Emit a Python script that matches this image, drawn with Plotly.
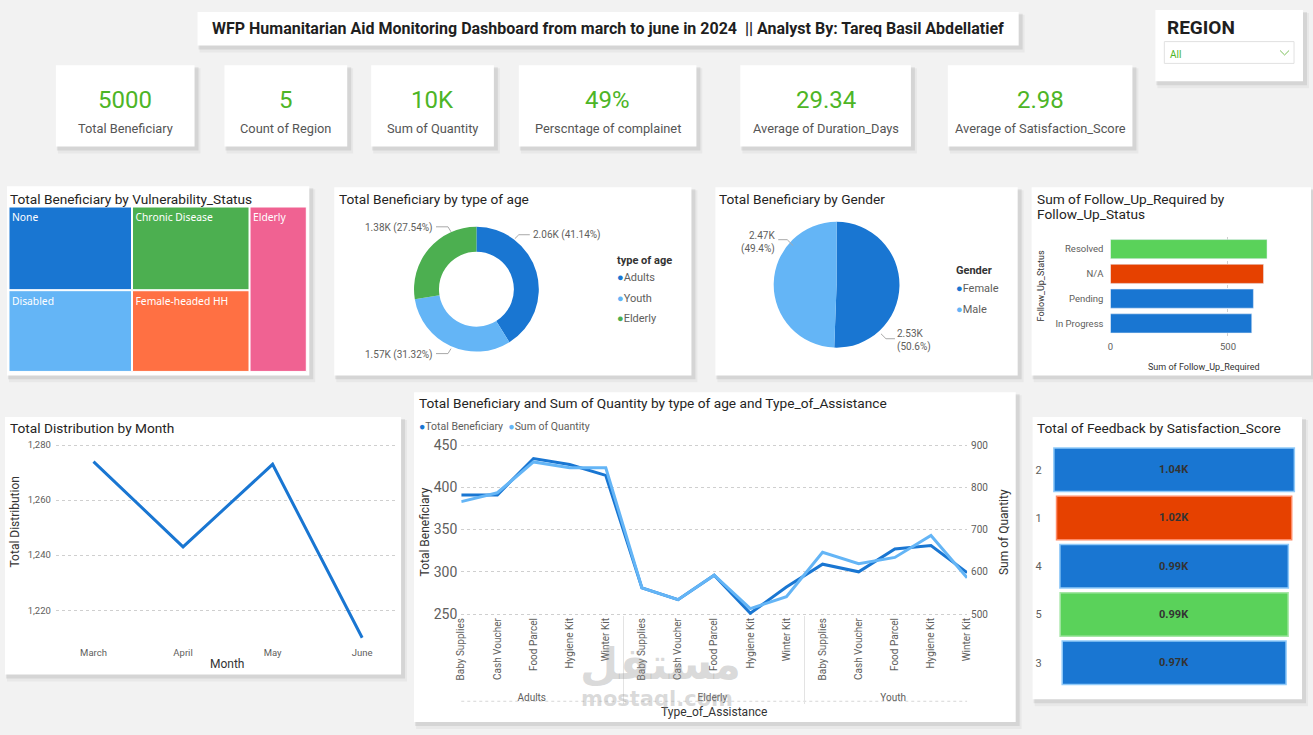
import plotly.graph_objects as go

W, H = 1313, 735
def px(x): return x / W
def py(y): return 1 - y / H

FONT = "Roboto"
TITLE_C = "#252423"
TICK_C = "#605E5C"
BLUE = "#1976D2"
LBLUE = "#64B5F6"
GREEN = "#4CAF50"
KPI_GREEN = "#4DB526"

# ---------------- data ----------------
kpi_values = ["5000", "5", "10K", "49%", "29.34", "2.98"]
kpi_labels = ["Total Beneficiary", "Count of Region", "Sum of Quantity",
              "Perscntage of complainet", "Average of Duration_Days",
              "Average of Satisfaction_Score"]

vuln_labels = ["None", "Disabled", "Chronic Disease", "Female-headed HH", "Elderly"]
vuln_values = [1047, 1023, 997, 973, 960]
vuln_colors = ["#1976D2", "#64B5F6", "#4CAF50", "#FF7043", "#F06292"]

age_labels = ["Adults", "Youth", "Elderly"]
age_values = [2057, 1566, 1377]
age_colors = [BLUE, LBLUE, GREEN]

gender_labels = ["Female", "Male"]
gender_values = [2530, 2470]
gender_colors = [BLUE, LBLUE]

follow_status = ["Resolved", "N/A", "Pending", "In Progress"]
follow_values = [666, 651, 608, 601]
follow_colors = ["#5AD25A", "#E64100", BLUE, BLUE]

months = ["March", "April", "May", "June"]
month_dist = [1274, 1243, 1273, 1210]

assist_types = ["Baby Supplies", "Cash Voucher", "Food Parcel", "Hygiene Kit", "Winter Kit"]
age_groups = ["Adults", "Elderly", "Youth"]
ben_adults = [391, 391, 434, 427, 414]
ben_elderly = [281, 267, 296, 251, 282]
ben_youth = [309, 300, 327, 331, 299]
qty_adults = [766, 787, 860, 846, 846]
qty_elderly = [562, 534, 592, 513, 541]
qty_youth = [646, 619, 634, 686, 586]

sat_scores = ["2", "1", "4", "5", "3"]
sat_feedback = [1042, 1019, 990, 988, 970]
sat_colors = [BLUE, "#E64100", BLUE, "#5AD25A", BLUE]
sat_lines = ["#90CAF9", "#FF8A65", "#90CAF9", "#A5E6A5", "#90CAF9"]

# ---------------- helpers ----------------
shapes = []
annotations = []

def card(x0, y0, x1, y1):
    shapes.append(dict(type="rect", xref="paper", yref="paper", layer="below",
                       x0=px(x0 + 2), x1=px(x1 + 6), y0=py(y1 + 7), y1=py(y0 + 3),
                       fillcolor="rgba(0,0,0,0.04)", line_width=0))
    shapes.append(dict(type="rect", xref="paper", yref="paper", layer="below",
                       x0=px(x0 + 1), x1=px(x1 + 4), y0=py(y1 + 4), y1=py(y0 + 2),
                       fillcolor="rgba(0,0,0,0.08)", line_width=0))
    shapes.append(dict(type="rect", xref="paper", yref="paper", layer="below",
                       x0=px(x0), x1=px(x1), y0=py(y1), y1=py(y0),
                       fillcolor="white", line_width=0))

def text(x, y, s, size=13.7, color=TITLE_C, xanchor="left", yanchor="middle",
         family=FONT, align="left", **kw):
    annotations.append(dict(xref="paper", yref="paper", x=px(x), y=py(y + 1.5), text=s,
                            showarrow=False, xanchor=xanchor, yanchor=yanchor,
                            align=align, borderpad=0,
                            font=dict(size=size, color=color, family=family), **kw))

def line(pts, color="#A8A8A8", width=1, dash="solid", layer="above"):
    path = "M " + " L ".join(f"{px(a)},{py(b)}" for a, b in pts)
    shapes.append(dict(type="path", xref="paper", yref="paper", path=path, layer=layer,
                       line=dict(color=color, width=width, dash=dash)))

# ---------------- cards ----------------
card(195, 12, 1018, 46)
kpi_boxes = [(53, 192), (222, 345), (369, 492), (517, 695), (739, 910), (947, 1132)]
for (a, b) in kpi_boxes:
    card(a, 66, b, 148)
card(1155, 10, 1303, 82)
card(4, 188, 307, 379)
card(332, 189, 690, 379)
card(714, 189, 1017, 379)
card(1031, 189, 1311, 379)
card(2, 421, 399, 681)
card(412, 396, 1015, 729)
card(1032, 421, 1302, 706)

# title bar
text(606, 27, "<b>WFP Humanitarian Aid Monitoring Dashboard from march to june in 2024  || Analyst By: Tareq Basil Abdellatief</b>",
     size=16, color="#1F1F1F", xanchor="center")

# KPIs
for (a, b), v, lab in zip(kpi_boxes, kpi_values, kpi_labels):
    cx = (a + b) / 2
    text(cx, 99, v, size=24, color=KPI_GREEN, xanchor="center")
    text(cx, 128, lab, size=12.8, color="#555555", xanchor="center")

# Region slicer
text(1166, 26, "<b>REGION</b>", size=19, color="#1F1F1F")
shapes.append(dict(type="rect", xref="paper", yref="paper",
                   x0=px(1164), x1=px(1294), y0=py(64), y1=py(42),
                   fillcolor="white", line=dict(color="#E1E1E1", width=1)))
text(1169, 54, "All", size=10, color=KPI_GREEN)
line([(1280, 51), (1284.5, 55.5), (1289, 51)], color="#7CC05A", width=1)

# chart titles
text(6, 199, "Total Beneficiary by Vulnerability_Status")
text(336, 199, "Total Beneficiary by type of age")
text(717, 199, "Total Beneficiary by Gender")
text(1035, 199, "Sum of Follow_Up_Required by")
text(1035, 215, "Follow_Up_Status")
text(6, 431, "Total Distribution by Month")
text(416, 405, "Total Beneficiary and Sum of Quantity by type of age and Type_of_Assistance")
text(1035, 431, "Total of Feedback by Satisfaction_Score")

# ---------------- traces ----------------
data = []

# treemap
data.append(go.Treemap(
    labels=vuln_labels, parents=[""] * len(vuln_labels), values=vuln_values,
    marker=dict(colors=vuln_colors, line=dict(color="white", width=1),
                pad=dict(t=0, l=0, r=0, b=0)),
    textinfo="label", textposition="top left",
    textfont=dict(size=10.3, color="white", family="Noto Sans"),
    tiling=dict(pad=1), pathbar=dict(visible=False), sort=True,
    domain=dict(x=[px(6), px(304)], y=[py(375), py(209)])))

# donut
data.append(go.Pie(
    labels=age_labels, values=age_values, hole=0.6, sort=False,
    direction="clockwise", rotation=0, textinfo="none",
    marker=dict(colors=age_colors, line=dict(color="white", width=0)),
    domain=dict(x=[px(411.5), px(537.5)], y=[py(355), py(229)])))

# gender pie
data.append(go.Pie(
    labels=gender_labels, values=gender_values, sort=False,
    direction="clockwise", rotation=0, textinfo="none",
    marker=dict(colors=gender_colors, line=dict(color="white", width=0)),
    domain=dict(x=[px(772), px(899)], y=[py(351), py(224)])))

# follow-up bars
data.append(go.Bar(
    y=follow_status, x=follow_values, orientation="h", width=0.77,
    marker=dict(color=follow_colors), xaxis="x", yaxis="y"))

# month line
data.append(go.Scatter(
    x=months, y=month_dist, mode="lines", line=dict(color=BLUE, width=3),
    xaxis="x2", yaxis="y2"))

# combo lines
xcat = [[g for g in age_groups for _ in assist_types], assist_types * len(age_groups)]
data.append(go.Scatter(
    x=xcat, y=ben_adults + ben_elderly + ben_youth, mode="lines",
    line=dict(color=BLUE, width=3), xaxis="x3", yaxis="y3", name="Total Beneficiary"))
data.append(go.Scatter(
    x=xcat, y=qty_adults + qty_elderly + qty_youth, mode="lines",
    line=dict(color=LBLUE, width=3), xaxis="x3", yaxis="y4", name="Sum of Quantity"))

# funnel
sat_text = [f"<b>{v/1000:.2f}K</b>" for v in sat_feedback]
data.append(go.Funnel(
    y=sat_scores, x=sat_feedback, text=sat_text, textinfo="text",
    textposition="inside", textfont=dict(size=11, color="#333333", family=FONT),
    marker=dict(color=sat_colors, line=dict(color=sat_lines, width=1.5)),
    connector=dict(visible=False), xaxis="x5", yaxis="y5"))

fig = go.Figure(data=data)

# ---------------- pie labels & legends ----------------
tot_age = sum(age_values)
age_txt = [f"{v/1000:.2f}K ({v/tot_age*100:.2f}%)" for v in age_values]
text(530.5, 236, age_txt[0], size=10, color=TICK_C)
line([(513, 241), (517, 237), (528, 237)])
text(432, 228.5, age_txt[2], size=10, color=TICK_C, xanchor="right")
line([(434, 229), (446, 229), (449, 234)])
text(432, 356.5, age_txt[1], size=10, color=TICK_C, xanchor="right")
line([(434, 357), (446, 357), (449, 352)])

text(614, 261, "<b>type of age</b>", size=11, color="#333333")
for i, (lab, col) in enumerate(zip(age_labels, age_colors)):
    text(614, 278.5 + 21 * i, f"<span style='color:{col}'>●</span>{lab}", size=11, color=TICK_C)

tot_g = sum(gender_values)
g_txt = [f"{v/1000:.2f}K<br>({v/tot_g*100:.1f}%)" for v in gender_values]
text(775, 243.5, g_txt[1], size=10, color=TICK_C, xanchor="right", align="right")
line([(777, 242), (786, 242), (792, 248)])
text(895.5, 342.5, g_txt[0], size=10, color=TICK_C)
line([(880, 337), (885, 342), (894, 342)])

text(954.5, 271.5, "<b>Gender</b>", size=11, color="#333333")
for i, (lab, col) in enumerate(zip(gender_labels, gender_colors)):
    text(954, 289.5 + 21 * i, f"<span style='color:{col}'>●</span>{lab}", size=11, color=TICK_C)

# combo legend
text(416, 429, f"<span style='color:{BLUE}'>●</span>Total Beneficiary  "
               f"<span style='color:{LBLUE}'>●</span>Sum of Quantity", size=10.5, color=TICK_C)

# combo category frame (dotted bottom line of the label area)
line([(459.3, 708), (966.3, 708)], color="#D6D6D6", width=1, dash="dot", layer="below")

# axis titles
text(1040, 287, "Follow_Up_Status", size=9, color="#333333", xanchor="center", textangle=-90)
text(1204, 369, "Sum of Follow_Up_Required", size=9, color="#333333", xanchor="center")
text(13, 525, "Total Distribution", size=12, color="#333333", xanchor="center", textangle=-90)
text(225, 669, "Month", size=12, color="#333333", xanchor="center")
text(423, 536, "Total Beneficiary", size=12, color="#333333", xanchor="center", textangle=-90)
text(1004, 536, "Sum of Quantity", size=12, color="#333333", xanchor="center", textangle=-90)
text(713, 717, "Type_of_Assistance", size=12, color="#333333", xanchor="center")

# watermark
text(659, 668, "<b>مستقل</b>", size=44, color="rgba(150,150,150,0.36)",
     xanchor="center", family="DejaVu Sans")
text(655, 704, "<b>mostaql.com</b>", size=21, color="rgba(150,150,150,0.36)",
     xanchor="center", family="DejaVu Sans")

grid = dict(showgrid=True, gridcolor="#CFCFCF", griddash="dot", gridwidth=1)
tickf = lambda s: dict(size=s, color=TICK_C, family=FONT)

fig.update_layout(
    width=W, height=735, autosize=False,
    margin=dict(l=0, r=0, t=0, b=0, pad=0),
    paper_bgcolor="#F2F2F2", plot_bgcolor="rgba(0,0,0,0)",
    showlegend=False, font=dict(family=FONT),
    shapes=shapes, annotations=annotations,
    funnelgap=0.1,
    # follow-up
    xaxis=dict(domain=[px(1110), px(1290)], range=[0, 764], tickvals=[0, 500],
               tickfont=tickf(9.5), zeroline=False, showline=False, anchor="y",
               ticks="", ticklabelstandoff=4, **grid),
    yaxis=dict(domain=[py(339), py(239)], categoryorder="array",
               categoryarray=follow_status, autorange="reversed", anchor="x",
               tickfont=tickf(9.5), showgrid=False, zeroline=False, ticks="",
               ticklabelstandoff=6),
    # month
    xaxis2=dict(domain=[px(53), px(395)], range=[-0.42, 3.39], type="category",
                tickfont=tickf(9.5), showgrid=False, zeroline=False, anchor="y2",
                ticks="", ticklabelstandoff=4),
    yaxis2=dict(domain=[py(648), py(440)], range=[1208.5, 1283.35],
                tickvals=[1220, 1240, 1260, 1280], tickformat=",", anchor="x2",
                tickfont=tickf(9.5), zeroline=False, ticks="", ticklabelstandoff=4, **grid),
    # combo
    xaxis3=dict(domain=[px(459.3), px(966.3)], type="multicategory", anchor="y3",
                tickangle=-90, tickfont=tickf(10), showgrid=False, zeroline=False,
                showdividers=True, dividercolor="#E3E3E3", dividerwidth=1, ticks=""),
    yaxis3=dict(domain=[py(621), py(441)], range=[248.8, 459.7],
                tickvals=[250, 300, 350, 400, 450], anchor="x3",
                tickfont=tickf(14), zeroline=False, ticks="", ticklabelstandoff=3, **grid),
    yaxis4=dict(overlaying="y3", side="right", anchor="x3", range=[497.6, 919.4],
                tickvals=[500, 600, 700, 800, 900], tickfont=tickf(10),
                showgrid=False, zeroline=False, ticks="", ticklabelstandoff=3),
    # funnel
    xaxis5=dict(domain=[px(1050), px(1297.6)], range=[-535.2, 535.2], visible=False, anchor="y5"),
    yaxis5=dict(domain=[py(693.4), py(449.9)], categoryorder="array", categoryarray=sat_scores,
                autorange="reversed", anchor="x5", tickfont=tickf(11), showgrid=False,
                zeroline=False, ticks="", ticklabelstandoff=8),
)

fig.write_html("out.html")
